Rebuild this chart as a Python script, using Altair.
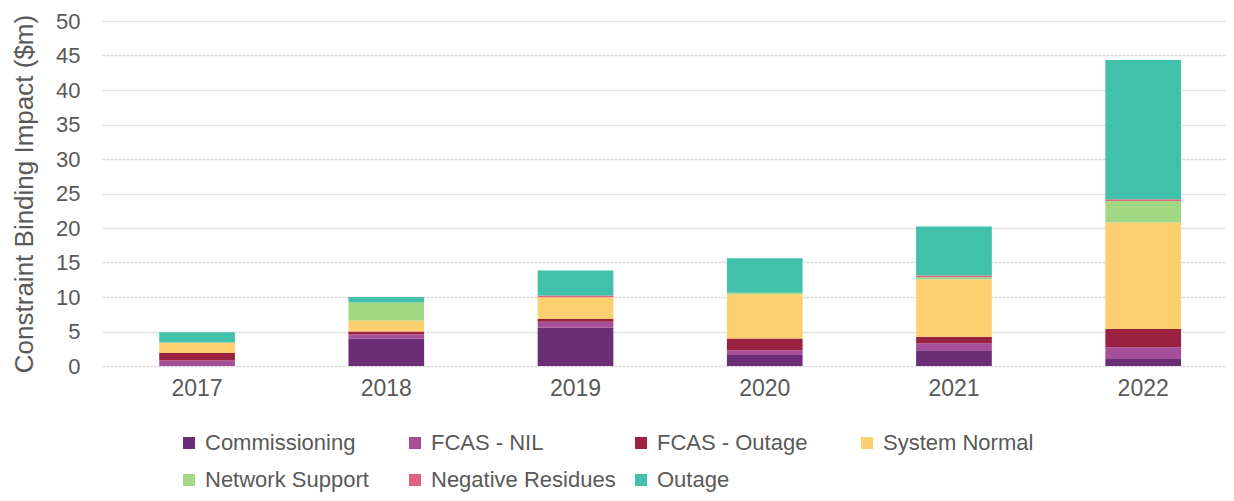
import altair as alt
import pandas as pd

years = ["2017", "2018", "2019", "2020", "2021", "2022"]
categories = ["Commissioning", "FCAS - NIL", "FCAS - Outage", "System Normal",
              "Network Support", "Negative Residues", "Outage"]
colors = ["#6B2D75", "#A44F98", "#9B2141", "#FCD06F", "#A2D884", "#E0637F", "#41C1AA"]

commissioning = [0.0, 4.0, 5.55, 1.6, 2.3, 1.0]
fcas_nil = [0.8, 0.6, 0.85, 0.7, 1.0, 1.7]
fcas_outage = [1.1, 0.4, 0.4, 1.7, 0.95, 2.65]
system_normal = [1.5, 1.6, 3.15, 6.4, 8.3, 15.45]
network_support = [0.0, 2.6, 0.0, 0.2, 0.3, 3.1]
negative_residues = [0.0, 0.0, 0.25, 0.0, 0.25, 0.25]
outage = [1.5, 0.8, 3.65, 5.0, 7.1, 20.2]

series = [commissioning, fcas_nil, fcas_outage, system_normal,
          network_support, negative_residues, outage]

rows = []
for ci, (cat, vals) in enumerate(zip(categories, series)):
    for y, v in zip(years, vals):
        rows.append({"Year": y, "Category": cat, "Value": v, "Order": ci})
df = pd.DataFrame(rows)

FONT = "Liberation Sans"
GRAY = "#595959"

chart = alt.Chart(df).mark_bar().encode(
    x=alt.X("Year:N", sort=years,
            scale=alt.Scale(paddingInner=0.6, paddingOuter=0.27, align=0.56),
            axis=alt.Axis(title=None, labelAngle=0, domain=False, ticks=False,
                          labelPadding=11, labelFontSize=23, labelColor=GRAY,
                          labelFont=FONT, grid=False)),
    y=alt.Y("Value:Q", stack="zero",
            scale=alt.Scale(domain=[0, 50], nice=False),
            axis=alt.Axis(title="Constraint Binding Impact ($m)", values=list(range(0, 51, 5)),
                          domain=False, ticks=False, labelPadding=22, labelFontSize=22,
                          labelColor=GRAY, labelFont=FONT, titleFontSize=26,
                          titleFont=FONT, titleColor=GRAY, titleFontWeight="normal",
                          titlePadding=18, gridColor="#D9D9D9", gridWidth=1.5,
                          gridDash=[3, 1])),
    color=alt.Color("Category:N", sort=categories,
                    scale=alt.Scale(domain=categories, range=colors),
                    legend=alt.Legend(title=None, orient="none", legendX=76, legendY=411,
                                      direction="horizontal", columns=4, gridAlign="all",
                                      symbolType="square", symbolSize=144,
                                      symbolStrokeWidth=0, labelFontSize=22,
                                      labelColor=GRAY, labelFont=FONT, labelOffset=5,
                                      rowPadding=15, columnPadding=14, padding=0,
                                      labelLimit=400)),
    order=alt.Order("Order:Q", sort="ascending"),
).properties(
    width=1124, height=345,
    autosize=alt.AutoSizeParams(type="none"),
    padding={"left": 94, "top": 13, "right": 0, "bottom": 127},
).configure_view(stroke=None)

chart.save("out.html", embed_options={"renderer": "svg", "actions": False})
